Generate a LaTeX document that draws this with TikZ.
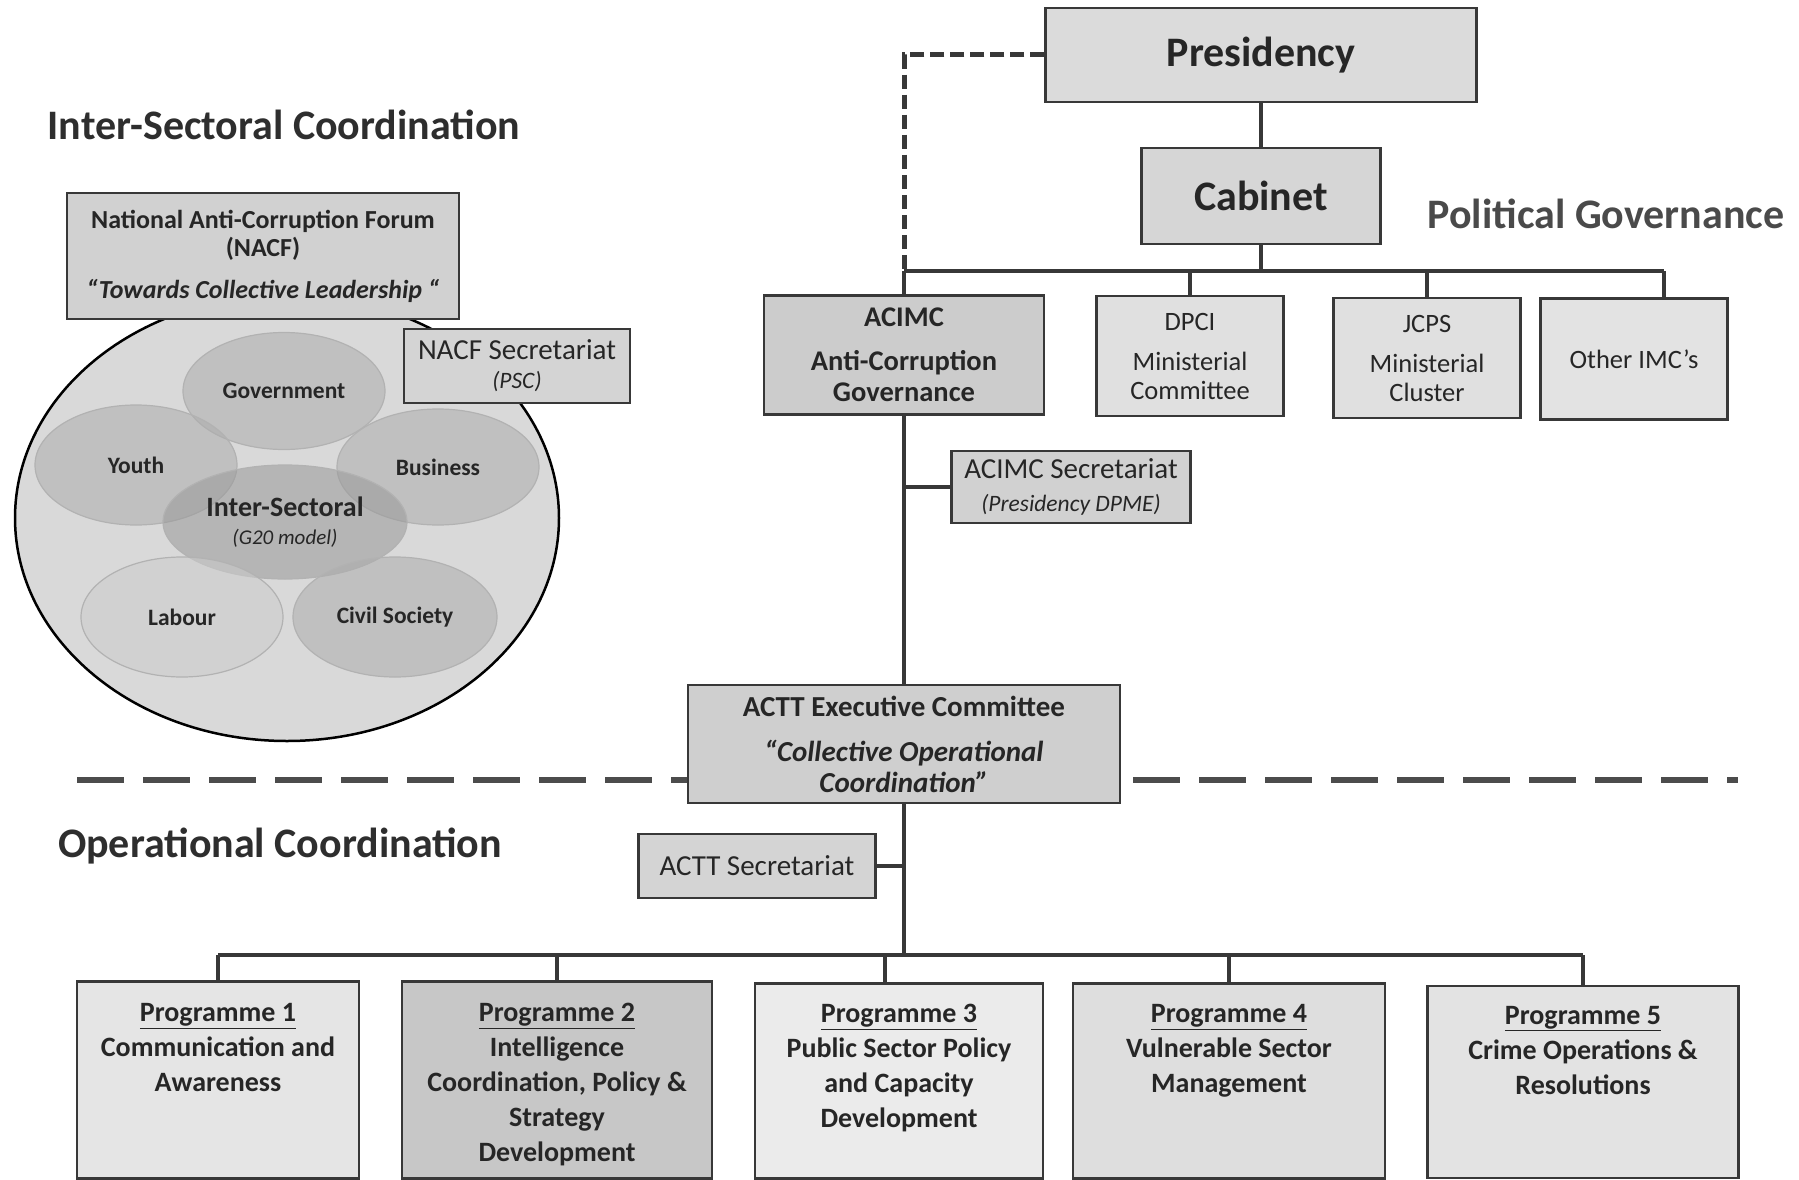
\documentclass[tikz,border=0pt]{standalone}
\usepackage{fontspec}
\setmainfont{Carlito}
\usepackage{tikz}
\usetikzlibrary{shapes.geometric}
\definecolor{ink}{HTML}{262626}
\definecolor{edge}{HTML}{383838}
\definecolor{headgray}{HTML}{2E2E2E}
\definecolor{polgray}{HTML}{4A4A4A}
\newcommand{\fsz}[2]{\fontsize{#1}{#2}\selectfont}

\begin{document}
\begin{tikzpicture}[x=1pt,y=-1pt,
	box/.style={draw=edge,line width=2.5pt,inner sep=0pt,align=center,text=ink},
	link/.style={draw=edge,line width=4.5pt},
	dashlink/.style={draw=edge,line width=5pt,dash pattern=on 14pt off 6pt},
	sepline/.style={draw=edge!90,line width=6pt,dash pattern=on 47pt off 19pt},
	heading/.style={font=\fsz{42}{50}\bfseries,inner sep=0pt},
	sector/.style={ellipse,draw=black!30,line width=1.2pt,fill=black!32,fill opacity=0.55,text opacity=1,text=ink,inner sep=0pt,align=center,font=\fsz{23.5}{27}\bfseries},
	progtxt/.style={anchor=north,align=center,inner sep=0pt,text=ink,font=\fsz{28}{35}\bfseries}]
	
		\useasboundingbox (0,0) rectangle (1799,1180);
		
		\node[heading,text=headgray] (ttlA) at (284,125) {Inter-Sectoral Coordination};
		\node[heading,text=polgray] (ttlB) at (1606,214) {Political Governance};
		\node[heading,text=headgray] (ttlC) at (280,846) {Operational Coordination};
		
		\draw[sepline] (77,780) to (1738,780);
		
		\node[ellipse,draw=black,line width=2.5pt,fill=black!15,minimum width=544pt,minimum height=446pt] (forum) at (287,518) {};
		\node[sector,minimum width=202pt,minimum height=117pt] (gov) at (284,391) {Government};
		\node[sector,minimum width=202pt,minimum height=120pt] (youth) at (136,465) {Youth};
		\node[sector,minimum width=202pt,minimum height=116pt] (biz) at (438,467) {Business};
		\node[sector,fill=black!40,minimum width=244pt,minimum height=114pt,font=\fsz{28}{27.5}\bfseries] (inter) at (285,522) {Inter-Sectoral\\{\fsz{21}{27.5}\mdseries\itshape (G20 model)}};
		\node[sector,fill=black!20,minimum width=202pt,minimum height=120pt] (lab) at (182,617) {Labour};
		\node[sector,minimum width=204pt,minimum height=120pt] (civ) at (395,617) {Civil Society};
		
		\node[box,fill=black!18,minimum width=392pt,minimum height=126pt,font=\fsz{26}{28}\bfseries] (nacf) at (263,256) {National Anti-Corruption Forum\\(NACF)\\[14pt]{\itshape “Towards Collective Leadership “}};
		\node[box,fill=black!17,minimum width=226pt,minimum height=74pt,font=\fsz{29}{29}] (nacfsec) at (517,366) {NACF Secretariat\\{\fsz{23.5}{29}\itshape (PSC)}};
		
		\node[box,fill=black!14,minimum width=431pt,minimum height=94pt,font=\fsz{42}{50}\bfseries] (pres) at (1261,55) {Presidency};
		\node[box,fill=black!16,minimum width=239pt,minimum height=96pt,font=\fsz{42}{50}\bfseries] (cab) at (1261,196) {Cabinet};
		
		\node[box,fill=black!20,minimum width=280pt,minimum height=119pt,font=\fsz{28.5}{31}\bfseries] (acimc) at (904,355) {ACIMC\\[13pt]Anti-Corruption\\Governance};
		\node[box,fill=black!12,minimum width=187pt,minimum height=120pt,font=\fsz{26.5}{29}] (dpci) at (1190,356) {DPCI\\[11pt]Ministerial\\Committee};
		\node[box,fill=black!12,minimum width=187pt,minimum height=120pt,font=\fsz{26.5}{29}] (jcps) at (1427,358) {JCPS\\[11pt]Ministerial\\Cluster};
		\node[box,fill=black!11,minimum width=187pt,minimum height=121pt,font=\fsz{26.5}{29}] (oimc) at (1634,359) {Other IMC’s};
		
		\node[box,fill=black!18,minimum width=239pt,minimum height=72pt,font=\fsz{29}{33.5}] (acimcsec) at (1071,487) {ACIMC Secretariat\\{\fsz{23.5}{33.5}\itshape (Presidency DPME)}};
		
		\node[box,fill=black!19,minimum width=432pt,minimum height=118pt,font=\fsz{29}{31}\bfseries] (actt) at (904,744) {ACTT Executive Committee\\[14pt]{\itshape “Collective Operational}\\{\itshape Coordination”}};
		\node[box,fill=black!17,minimum width=237pt,minimum height=64pt,font=\fsz{29}{33}] (acttsec) at (757,866) {ACTT Secretariat};
		
		\node[box,fill=black!10,minimum width=282pt,minimum height=197pt] (p1) at (218,1080) {};
		\node[box,fill=black!22,minimum width=310pt,minimum height=197pt] (p2) at (557,1080) {};
		\node[box,fill=black!8,minimum width=288pt,minimum height=195pt] (p3) at (899,1081) {};
		\node[box,fill=black!13,minimum width=312pt,minimum height=195pt] (p4) at (1229,1081) {};
		\node[box,fill=black!11,minimum width=311pt,minimum height=192pt] (p5) at (1583,1082) {};
		
		\node[progtxt] (p1t) at ([yshift=-23pt]p1.north) {\underline{Programme 1}\\Communication and\\Awareness};
		\node[progtxt] (p2t) at ([yshift=-23pt]p2.north) {\underline{Programme 2}\\Intelligence\\Coordination, Policy \&\\Strategy\\Development};
		\node[progtxt] (p3t) at ([yshift=-22pt]p3.north) {\underline{Programme 3}\\Public Sector Policy\\and Capacity\\Development};
		\node[progtxt] (p4t) at ([yshift=-22pt]p4.north) {\underline{Programme 4}\\Vulnerable Sector\\Management};
		\node[progtxt] (p5t) at ([yshift=-21pt]p5.north) {\underline{Programme 5}\\Crime Operations \&\\Resolutions};
		
		\coordinate (topL) at (904,271);
		\coordinate (topR) at (1664,271);
		\coordinate (botL) at (218,955);
		\coordinate (botR) at (1583,955);
		\coordinate (p3top) at (885,955);
		
		\draw[dashlink] (pres.west) -| (topL);
		\draw[link] (pres) to (cab);
		\draw[link] (topL) to (topR);
		\draw[link] (cab) to (cab |- topL);
		\draw[link] (topL) to (acimc);
		\draw[link] (dpci) to (dpci |- topL);
		\draw[link] (jcps) to (jcps |- topL);
		\draw[link] (topR) to (topR |- oimc.north);
		
		\draw[link] (acimc) to (actt);
		\draw[link] (acimcsec) to (acimcsec -| acimc);
		\draw[link] (actt) to (actt |- botL);
		\draw[link] (acttsec) to (acttsec -| actt);
		
		\draw[link] (botL) to (botR);
		\draw[link] (botL) to (p1);
		\draw[link] (p2) to (p2 |- botL);
		\draw[link] (p3top) to (p3top |- p3.north);
		\draw[link] (p4) to (p4 |- botL);
		\draw[link] (botR) to (p5);
	\end{tikzpicture}
\end{document}
